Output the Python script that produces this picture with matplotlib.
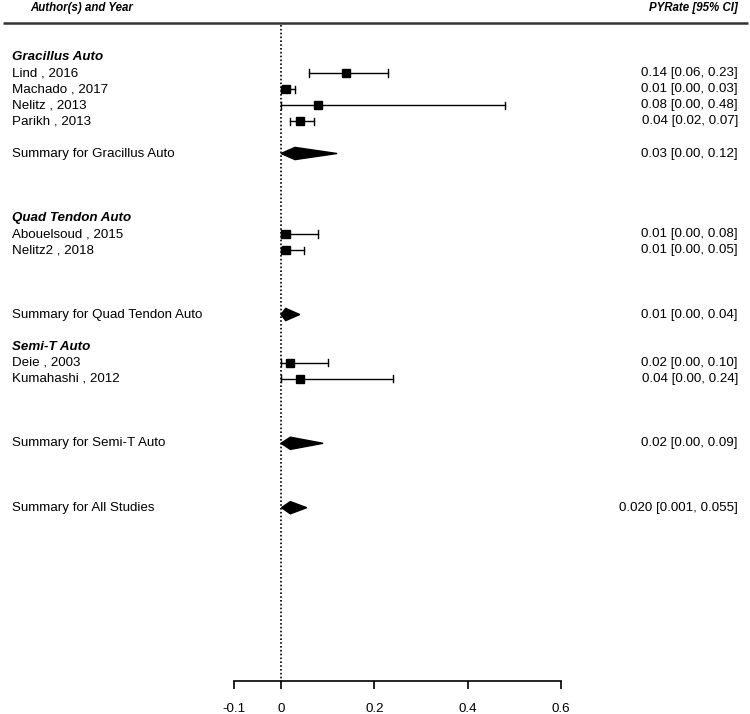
import matplotlib
matplotlib.use("Agg")
import matplotlib.pyplot as plt
from matplotlib.patches import Polygon

plt.rcParams['font.family'] = ['Liberation Sans', 'DejaVu Sans']

# ---- data ----
study_labels = ["Lind , 2016", "Machado , 2017", "Nelitz , 2013", "Parikh , 2013",
                "Abouelsoud , 2015", "Nelitz2 , 2018",
                "Deie , 2003", "Kumahashi , 2012"]
study_est = [0.14, 0.01, 0.08, 0.04, 0.01, 0.01, 0.02, 0.04]
study_lo = [0.06, 0.00, 0.00, 0.02, 0.00, 0.00, 0.00, 0.00]
study_hi = [0.23, 0.03, 0.48, 0.07, 0.08, 0.05, 0.10, 0.24]
study_text = ["0.14 [0.06, 0.23]", "0.01 [0.00, 0.03]", "0.08 [0.00, 0.48]",
              "0.04 [0.02, 0.07]", "0.01 [0.00, 0.08]", "0.01 [0.00, 0.05]",
              "0.02 [0.00, 0.10]", "0.04 [0.00, 0.24]"]
study_rows = [0, 1, 2, 3, 10, 11, 18, 19]

group_labels = ["Gracillus Auto", "Quad Tendon Auto", "Semi-T Auto"]
group_rows = [-1, 9, 17]

summary_labels = ["Summary for Gracillus Auto", "Summary for Quad Tendon Auto",
                  "Summary for Semi-T Auto", "Summary for All Studies"]
summary_est = [0.03, 0.01, 0.02, 0.020]
summary_lo = [0.00, 0.00, 0.00, 0.001]
summary_hi = [0.12, 0.04, 0.09, 0.055]
summary_text = ["0.03 [0.00, 0.12]", "0.01 [0.00, 0.04]", "0.02 [0.00, 0.09]",
                "0.020 [0.001, 0.055]"]
summary_rows = [5, 15, 23, 27]

xticks = [-0.1, 0, 0.2, 0.4, 0.6]
xticklabels = ["-0.1", "0", "0.2", "0.4", "0.6"]

# ---- figure ----
fig = plt.figure(figsize=(7.5, 7.14), dpi=100)
ax = fig.add_axes([0, 0, 1, 1])
px_per_unit = 467.0
x0px = 281.0
ax.set_xlim((0 - x0px) / px_per_unit, (750 - x0px) / px_per_unit)
row_px = 16.1
y0px = 73.0
ax.set_ylim((714 - y0px) / row_px, (0 - y0px) / row_px)

fs = 9.6
x_left = (12 - x0px) / px_per_unit
x_right = (738 - x0px) / px_per_unit

# headers
ax.text((82 - x0px) / px_per_unit, -4.05, "Author(s) and Year", ha='center', va='center',
        fontsize=8.3, fontweight='bold', fontstyle='italic',
        family=['Liberation Sans Narrow', 'Liberation Sans'])
ax.text(x_right, -4.05, "PYRate [95% CI]", ha='right', va='center',
        fontsize=8.3, fontweight='bold', fontstyle='italic',
        family=['Liberation Sans Narrow', 'Liberation Sans'])
ax.plot([(3 - x0px) / px_per_unit, (748 - x0px) / px_per_unit], [-3.1, -3.1],
        color='#333333', lw=1.8, solid_capstyle='butt')

# reference line at 0
axis_row = (681 - y0px) / row_px
ax.plot([0, 0], [-3.0, axis_row], color='black', lw=1.2, ls=(0, (1, 1.3)))

# group headers
for lab, r in zip(group_labels, group_rows):
    ax.text(x_left, r, lab, ha='left', va='center', fontsize=fs,
            fontweight='bold', fontstyle='italic')

# studies
cap = 0.22
for lab, e, lo, hi, t, r in zip(study_labels, study_est, study_lo, study_hi,
                                study_text, study_rows):
    ax.text(x_left, r, lab, ha='left', va='center', fontsize=fs)
    ax.text(x_right, r, t, ha='right', va='center', fontsize=fs)
    ax.plot([lo, hi], [r, r], color='black', lw=1.0)
    ax.plot([lo, lo], [r - cap, r + cap], color='black', lw=1.0)
    ax.plot([hi, hi], [r - cap, r + cap], color='black', lw=1.0)
    ax.plot([e], [r], marker='s', color='black', markersize=5.3)

# summaries
dh = 0.38
for lab, e, lo, hi, t, r in zip(summary_labels, summary_est, summary_lo,
                                summary_hi, summary_text, summary_rows):
    ax.text(x_left, r, lab, ha='left', va='center', fontsize=fs)
    ax.text(x_right, r, t, ha='right', va='center', fontsize=fs)
    poly = Polygon([[lo, r], [e, r - dh], [hi, r], [e, r + dh]], closed=True,
                   facecolor='black', edgecolor='black', lw=1.0)
    ax.add_patch(poly)

# x axis
for s in ['top', 'left', 'right']:
    ax.spines[s].set_visible(False)
ax.spines['bottom'].set_position(('data', axis_row))
ax.spines['bottom'].set_bounds(-0.1, 0.6)
ax.spines['bottom'].set_linewidth(1.2)
ax.set_xticks(xticks)
ax.set_xticklabels(xticklabels, fontsize=fs)
ax.tick_params(axis='x', direction='out', length=6, width=1.2, pad=10)
ax.set_yticks([])

fig.savefig("out.png", dpi=100)
